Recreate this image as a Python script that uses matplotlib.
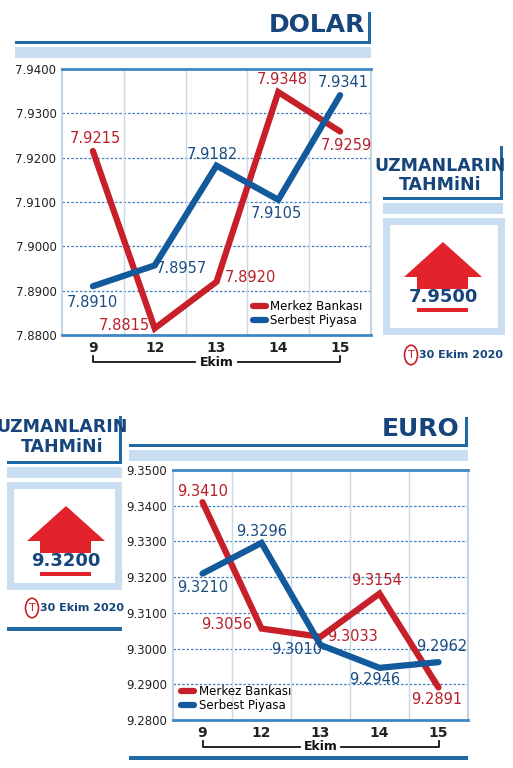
import matplotlib
matplotlib.use("Agg")
import matplotlib.pyplot as plt
from matplotlib.patches import Rectangle, Polygon, Circle
from matplotlib.transforms import blended_transform_factory
import numpy as np

days = ["9", "12", "13", "14", "15"]
usd_mb = [7.9215, 7.8815, 7.8920, 7.9348, 7.9259]
usd_sp = [7.8910, 7.8957, 7.9182, 7.9105, 7.9341]
eur_mb = [9.3410, 9.3056, 9.3033, 9.3154, 9.2891]
eur_sp = [9.3210, 9.3296, 9.3010, 9.2946, 9.2962]
usd_ticks = [7.88, 7.89, 7.90, 7.91, 7.92, 7.93, 7.94]
eur_ticks = [9.28, 9.29, 9.30, 9.31, 9.32, 9.33, 9.34, 9.35]
usd_forecast = "7.9500"
eur_forecast = "9.3200"
date_text = "30 Ekim 2020"

W, H = 513, 768
RED, BLUE = "#c8202a", "#125a9c"
TRED, TBLUE = "#b8202a", "#1a4d82"
DARK = "#15457a"
LBAND = "#c9def0"
FONT = ["DejaVu Sans"]
plt.rcParams["font.family"] = FONT

fig = plt.figure(figsize=(W/100, H/100), dpi=100)

def rect(x0, y0, x1, y1, color):
    fig.patches.append(Rectangle((x0/W, 1-y1/H), (x1-x0)/W, (y1-y0)/H,
                                 transform=fig.transFigure, color=color, lw=0))

def ftext(x, y, s, **kw):
    fig.text(x/W, 1-y/H, s, **kw)

def header(x0, x1, ytitle, yline):
    rect(x0, yline-1.5, x1, yline+1.5, "#1f6aa5")
    rect(x1-3, ytitle-14, x1, yline+1.5, "#1f6aa5")
    rect(x0, yline+5, x1, yline+16, LBAND)

def arrow_box(x0, y0, x1, y1, val, cx):
    rect(x0, y0, x1, y1, LBAND)
    rect(x0+7, y0+7, x1-7, y1-7, "white")
    top = y0 + 24; base = top + 35
    pts = [(cx, top), (cx+39, base), (cx+25, base), (cx+25, base+14),
           (cx-26, base+14), (cx-26, base), (cx-39, base)]
    fig.patches.append(Polygon([(x/W, 1-y/H) for x, y in pts], closed=True,
                               transform=fig.transFigure, color="#e3232b", lw=0))
    rect(cx-26, base+12, cx+25, base+20, "white")
    ftext(cx, base+20, val, ha="center", va="center", fontsize=13,
          fontweight="bold", color=DARK)
    rect(cx-26, base+31, cx+25, base+35, "#e3232b")

def date_line(cx, y):
    ftext(cx+9, y, date_text, ha="center", va="center", fontsize=8,
          fontweight="bold", color=DARK)
    fig.patches.append(Circle(((cx-41)/W, 1-y/H), 6.5/W, transform=fig.transFigure,
                              fill=False, ec="#c8202a", lw=1.2))
    ftext(cx-41, y, "T", ha="center", va="center", fontsize=8, color="#c8202a")

def chart(l, r, t, b, mb, sp, ticks, mb_off, sp_off):
    ax = fig.add_axes([l/W, 1-b/H, (r-l)/W, (b-t)/H])
    x = np.arange(len(days))
    ax.set_xlim(-0.5, 4.5)
    ax.set_ylim(ticks[0], ticks[-1])
    ax.set_yticks(ticks)
    ax.set_yticklabels([f"{v:.4f}" for v in ticks], fontsize=8.5, color="#222")
    ax.set_xticks(x)
    ax.set_xticklabels(days, fontsize=10, fontweight="bold", color="#222")
    ax.tick_params(length=0, pad=4)
    for v in ticks[1:-1]:
        ax.axhline(v, color="#3f7fbf", lw=0.9, ls=(0, (2, 1.5)), zorder=1)
    for v in np.arange(0.5, 4.5, 1):
        ax.axvline(v, color="#cbd8e6", lw=1, zorder=1)
    for s in ["top", "bottom"]:
        ax.spines[s].set_color("#3f86c3"); ax.spines[s].set_linewidth(2)
    for s in ["left", "right"]:
        ax.spines[s].set_color("#c3d3e3"); ax.spines[s].set_linewidth(1.5)
    ax.plot(x, mb, color=RED, lw=4.5, solid_capstyle="round", solid_joinstyle="miter",
            label="Merkez Bankası", zorder=3)
    ax.plot(x, sp, color=BLUE, lw=4.5, solid_capstyle="round", solid_joinstyle="miter",
            label="Serbest Piyasa", zorder=3)
    for xi, v, o in zip(x, mb, mb_off):
        ax.annotate(f"{v:.4f}", (xi, v), xytext=o, textcoords="offset pixels",
                    ha="center", va="center", fontsize=10.5, color=TRED, zorder=4)
    for xi, v, o in zip(x, sp, sp_off):
        ax.annotate(f"{v:.4f}", (xi, v), xytext=o, textcoords="offset pixels",
                    ha="center", va="center", fontsize=10.5, color=TBLUE, zorder=4)
    tr = blended_transform_factory(ax.transData, ax.transAxes)
    hp = (b - t)
    yb = -27/hp; yt = -21/hp
    ax.plot([0, 0, 1.65], [yt, yb, yb], color="#111", lw=1.3, transform=tr, clip_on=False)
    ax.plot([2.35, 4, 4], [yb, yb, yt], color="#111", lw=1.3, transform=tr, clip_on=False)
    ax.text(2, yb, "Ekim", transform=tr, ha="center", va="center", fontsize=9,
            fontweight="bold", color="#111")
    return ax

# ---- DOLAR ----
header(15, 371, 26, 42)
ftext(365, 25, "DOLAR", ha="right", va="center", fontsize=18, fontweight="bold", color=DARK)
ax1 = chart(62, 371, 69, 335, usd_mb, usd_sp, usd_ticks,
            [(2, 13), (-30, 3), (34, 4), (4, 13), (6, -14)],
            [(-1, -16), (27, -3), (-4, 11), (-2, -14), (3, 13)])
ax1.legend(loc="lower right", frameon=False, fontsize=8.5, handlelength=1.1,
           handleheight=0.5, borderaxespad=0.3, labelspacing=0.1, handletextpad=0.4)

header(383, 503, 160, 198)
ftext(440, 166, "UZMANLARIN", ha="center", va="center", fontsize=12.5, fontweight="bold", color=DARK)
ftext(440, 185, "TAHMiNi", ha="center", va="center", fontsize=12.5, fontweight="bold", color=DARK)
arrow_box(383, 218, 505, 335, usd_forecast, 443)
date_line(452, 355)

# ---- EURO ----
header(7, 122, 430, 462)
ftext(62, 427, "UZMANLARIN", ha="center", va="center", fontsize=12.5, fontweight="bold", color=DARK)
ftext(62, 447, "TAHMiNi", ha="center", va="center", fontsize=12.5, fontweight="bold", color=DARK)
arrow_box(7, 482, 122, 590, eur_forecast, 66)
date_line(73, 608)
rect(7, 627, 122, 631, "#1f6aa5")

header(129, 468, 431, 445)
ftext(460, 429, "EURO", ha="right", va="center", fontsize=18, fontweight="bold", color=DARK)
ax2 = chart(173, 468, 470, 720, eur_mb, eur_sp, eur_ticks,
            [(0, 11), (-35, 4), (32, 0), (-3, 13), (-2, -12)],
            [(0, -14), (0, 11), (-24, -5), (-5, -12), (3, 16)])
ax2.legend(loc="lower left", frameon=False, fontsize=8.5, handlelength=1.1,
           handleheight=0.5, borderaxespad=0.3, labelspacing=0.1, handletextpad=0.4)
rect(129, 756, 468, 760, "#1f6aa5")

fig.savefig("out.png", dpi=100)
